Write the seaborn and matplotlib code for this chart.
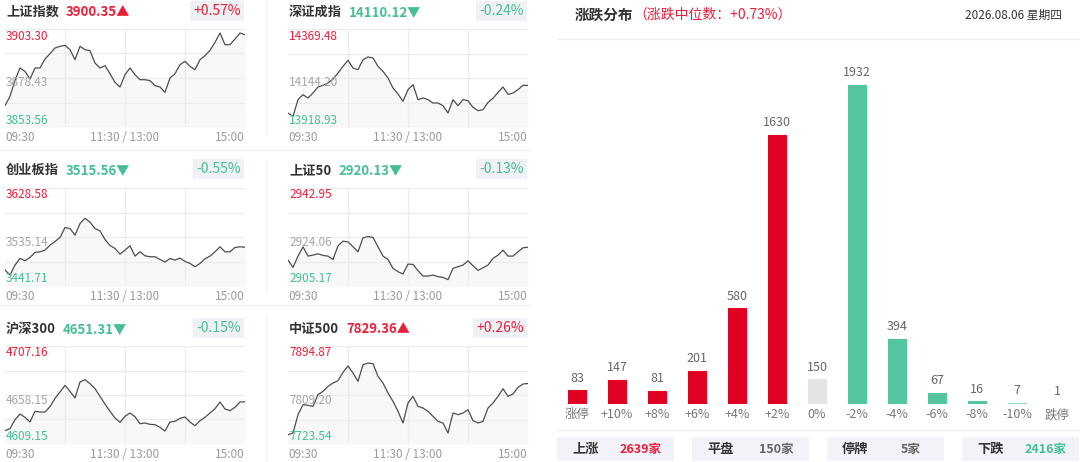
import numpy as np
import pandas as pd
import matplotlib.pyplot as plt
import seaborn as sns

sns.set_theme(style='white')
plt.rcParams['font.family'] = ['Noto Sans CJK SC', 'DejaVu Sans']

RED = '#e8203c'
GREEN = '#45bf93'
GRAY = '#9a9a9a'
DARK = '#333333'
GRID = '#ececec'

# ---- index panels ---- #
index_names = ['上证指数', '深证成指', '创业板指', '上证50', '沪深300', '中证500']
index_last = [3900.35, 14110.12, 3515.56, 2920.13, 4651.31, 7829.36]
index_pct = ['+0.57%', '-0.24%', '-0.55%', '-0.13%', '-0.15%', '+0.26%']
axis_high = [3903.30, 14369.48, 3628.58, 2942.95, 4707.16, 7894.87]
axis_mid = [3878.43, 14144.20, 3535.14, 2924.06, 4658.15, 7809.20]
axis_low = [3853.56, 13918.93, 3441.71, 2905.17, 4609.15, 7723.54]
time_labels = ['09:30', '11:30 / 13:00', '15:00']
minutes = list(range(0, 241, 5))  # trading minutes since 09:30

sh_vals = [3864.39, 3869.13, 3877.25, 3883.51, 3881.81, 3877.92, 3883.51, 3883.51, 3888.07, 3890.78,
           3893.66, 3894.50, 3895.01, 3892.81, 3887.74, 3894.50, 3892.81, 3892.30, 3886.04, 3883.51,
           3884.69, 3880.63, 3876.23, 3873.86, 3880.12, 3883.51, 3880.12, 3877.58, 3877.58, 3877.08,
           3874.54, 3873.86, 3871.16, 3878.43, 3880.63, 3885.20, 3886.89, 3884.35, 3882.66, 3887.74,
           3889.77, 3892.47, 3896.53, 3901.27, 3895.35, 3895.35, 3898.22, 3901.27, 3900.35]
sz_vals = [13983.3, 13968.0, 14044.6, 14067.6, 14052.3, 14075.3, 14102.8, 14110.5, 14121.2, 14139.6,
           14167.2, 14197.9, 14225.4, 14190.2, 14182.5, 14228.5, 14240.8, 14236.2, 14197.9, 14174.9,
           14144.2, 14098.2, 14070.7, 14036.9, 14090.6, 14113.6, 14044.6, 14052.3, 14044.6, 14029.3,
           14029.3, 14017.0, 13983.3, 14044.6, 14017.0, 14044.6, 14040.0, 14009.4, 13994.0, 13998.6,
           14032.3, 14050.7, 14078.3, 14102.8, 14069.1, 14075.3, 14090.6, 14110.5, 14110.12]
cyb_vals = [3472.12, 3462.61, 3481.62, 3494.29, 3489.85, 3496.19, 3505.69, 3506.96, 3510.12, 3519.62,
            3526.59, 3534.19, 3553.20, 3551.30, 3538.63, 3560.80, 3570.94, 3563.33, 3551.30, 3546.86,
            3530.39, 3518.99, 3513.29, 3502.52, 3510.12, 3518.36, 3498.72, 3506.96, 3499.35, 3497.45,
            3497.45, 3492.39, 3487.32, 3494.29, 3491.12, 3494.92, 3488.58, 3484.78, 3478.45, 3484.78,
            3493.65, 3498.72, 3506.96, 3516.46, 3506.96, 3506.96, 3515.19, 3516.46, 3515.56]
sz50_vals = [2915.16, 2912.34, 2916.70, 2920.28, 2916.70, 2917.08, 2917.59, 2916.95, 2916.70, 2915.41,
             2920.67, 2922.46, 2922.20, 2920.28, 2918.36, 2923.74, 2924.25, 2923.87, 2920.28, 2916.70,
             2915.41, 2911.96, 2910.68, 2909.78, 2913.62, 2913.49, 2911.06, 2909.01, 2909.01, 2909.40,
             2908.76, 2908.50, 2907.60, 2911.96, 2912.60, 2913.24, 2914.90, 2912.98, 2911.19, 2912.21,
             2913.24, 2915.80, 2917.08, 2919.00, 2916.70, 2916.70, 2918.36, 2919.90, 2920.13]
hs300_vals = [4622.48, 4624.48, 4633.49, 4639.15, 4635.82, 4631.15, 4641.82, 4641.15, 4641.15, 4646.49,
              4654.82, 4661.15, 4667.82, 4661.82, 4655.15, 4671.16, 4673.49, 4669.49, 4664.49, 4656.82,
              4649.15, 4641.82, 4635.15, 4630.82, 4636.82, 4640.15, 4636.49, 4629.48, 4630.15, 4628.82,
              4628.48, 4625.82, 4622.15, 4631.15, 4631.82, 4634.82, 4636.15, 4631.15, 4627.48, 4632.49,
              4635.82, 4640.15, 4644.49, 4651.15, 4644.15, 4642.49, 4645.82, 4651.15, 4651.31]
zz500_vals = [7739.86, 7742.77, 7774.82, 7792.30, 7791.14, 7789.39, 7809.79, 7815.61, 7824.36, 7830.18,
              7834.26, 7848.83, 7859.90, 7847.67, 7833.10, 7862.24, 7865.15, 7863.98, 7841.84, 7830.18,
              7812.70, 7798.13, 7780.65, 7760.25, 7795.22, 7806.87, 7789.39, 7786.48, 7780.65, 7771.91,
              7763.17, 7760.25, 7742.77, 7777.74, 7774.82, 7777.74, 7783.56, 7764.33, 7760.25, 7763.17,
              7786.48, 7795.22, 7806.87, 7820.28, 7806.87, 7810.95, 7822.61, 7828.44, 7829.36]
series = [sh_vals, sz_vals, cyb_vals, sz50_vals, hs300_vals, zz500_vals]

# ---- distribution ---- #
dist_labels = ['涨停', '+10%', '+8%', '+6%', '+4%', '+2%', '0%', '-2%', '-4%', '-6%', '-8%', '-10%', '跌停']
dist_counts = [83, 147, 81, 201, 580, 1630, 150, 1932, 394, 67, 16, 7, 1]
dist_colors = ['#e00022'] * 6 + ['#e4e4e4'] + ['#54c4a1'] * 4 + ['#8bd9c1', '#d6f2e9']
median_text = '（涨跌中位数：+0.73%）'
date_text = '2026.08.06 星期四'
summary_names = ['上涨', '平盘', '停牌', '下跌']
summary_counts = [2639, 150, 5, 2416]
summary_colors = [RED, '#666666', '#666666', GREEN]

W, H = 1080, 462
fig = plt.figure(figsize=(W / 100, H / 100), dpi=100, facecolor='white')


def px_axes(x0, y0, x1, y1):
    return fig.add_axes([x0 / W, 1 - y1 / H, (x1 - x0) / W, (y1 - y0) / H])


def pixel_layer(z):
    a = fig.add_axes([0, 0, 1, 1])
    a.set_xlim(0, W)
    a.set_ylim(H, 0)
    a.axis('off')
    a.set_zorder(z)
    a.patch.set_alpha(0)
    return a


bg = pixel_layer(-1)   # separators and boxes
fg = pixel_layer(10)   # texts on top of everything

col_x = [(5, 245), (288, 528)]
title_y = [12, 170, 329]
plot_y = [(29, 127), (188, 286), (346, 444)]

# separators between panels
for sy in (150, 305):
    bg.plot([0, 531], [sy, sy], color='#f0f0f0', lw=1)
for (a, b) in [(0, 135), (160, 292), (315, 462)]:
    bg.plot([266, 266], [a, b], color='#f2f2f2', lw=1)

for k in range(6):
    col, row = k % 2, k // 2
    x0, x1 = col_x[col]
    y0, y1 = plot_y[row]
    ty = title_y[row]
    up = index_pct[k].startswith('+')
    c = RED if up else GREEN

    ax = px_axes(x0, y0, x1, y1)
    df = pd.DataFrame({'t': minutes, 'v': series[k]})
    ax.fill_between(df['t'], df['v'], axis_low[k], color='#f8f8f8', lw=0, zorder=0)
    for lv in np.linspace(axis_low[k], axis_high[k], 5):
        ax.axhline(lv, color=GRID, lw=0.9, zorder=0.5)
    for m in (60, 120, 180):
        ax.axvline(m, color=GRID, lw=0.9, zorder=0.5)
    sns.lineplot(data=df, x='t', y='v', ax=ax, color='#4d4d4d', lw=0.9, zorder=2)
    ax.set_xlim(0, 240)
    ax.set_ylim(axis_low[k], axis_high[k])
    ax.set_xlabel('')
    ax.set_ylabel('')
    ax.set_yticks([])
    ax.set_xticks([0, 120, 240], time_labels)
    ax.tick_params(axis='x', length=0, pad=3, labelsize=8.5, labelcolor=GRAY)
    tl = ax.get_xticklabels()
    tl[0].set_ha('left')
    tl[-1].set_ha('right')
    for s in ax.spines.values():
        s.set_visible(False)
    ax.patch.set_alpha(0)

    # axis value labels
    lx = x0 + 1
    for yy, val, cc in [(y0 + 7, axis_high[k], RED), ((y0 + y1) / 2 + 5, axis_mid[k], '#a6a6a6'),
                        (y1 - 7, axis_low[k], GREEN)]:
        fg.text(lx, yy, f'{val:.2f}', color=cc, fontsize=8.5, va='center', ha='left')

    # header
    name = fg.text(x0 + 1, ty, index_names[k], fontsize=9.5, weight='bold', color=DARK, va='center')
    arrow = '▲' if up else '▼'
    fg.annotate(f'{index_last[k]:.2f}{arrow}', xy=(1, 0.5), xycoords=name, xytext=(5, 0),
                textcoords='offset points', fontsize=9.5, weight='bold', color=c, va='center')
    fg.text(x1 - 4, ty - 1, index_pct[k], fontsize=10, color=c, va='center', ha='right',
            bbox=dict(boxstyle='square,pad=0.25', fc='#f0f1f5', ec='none'))

# ---- right: distribution chart ---- #
t1 = fg.text(575, 15, '涨跌分布', fontsize=10.5, weight='bold', color=DARK, va='center')
fg.annotate(median_text, xy=(1, 0.5), xycoords=t1, xytext=(0, 0), textcoords='offset points',
            fontsize=10, color=RED, va='center')
fg.text(1062, 15, date_text, fontsize=8.5, color=DARK, va='center', ha='right')
bg.plot([557, 1080], [39, 39], color='#eeeeee', lw=1)
bg.plot([557, 1080], [430, 430], color='#eeeeee', lw=1)

bx = px_axes(557, 40, 1077, 404)
sns.barplot(x=dist_labels, y=dist_counts, hue=dist_labels, palette=dist_colors, legend=False,
            width=0.45, saturation=1, ax=bx)
for cont, cnt in zip(bx.containers, dist_counts):
    for bar in cont:
        bar.set_edgecolor(bar.get_facecolor())
        bar.set_linewidth(0.8)
    bx.bar_label(cont, labels=[str(cnt)], padding=4, fontsize=9, color='#666666')
bx.set_xlim(-0.5, 12.5)
bx.set_ylim(0, 2204)
bx.set_yticks([])
bx.tick_params(axis='x', length=0, pad=3, labelsize=9, labelcolor='#777777')
for s in bx.spines.values():
    s.set_visible(False)
bx.patch.set_alpha(0)

# ---- summary boxes ---- #
for i, (nm, cnt, cc) in enumerate(zip(summary_names, summary_counts, summary_colors)):
    bx0 = 557 + 135 * i
    bg.add_patch(plt.Rectangle((bx0, 437), 117, 24, fc='#f2f3f8', ec='none'))
    fg.text(bx0 + 15, 449, nm, fontsize=9.5, weight='bold', color=DARK, va='center', ha='left')
    fg.text(bx0 + 84, 449, f'{cnt}家', fontsize=9, weight='bold', color=cc, va='center', ha='center')

fig.savefig('out.png', dpi=100, facecolor='white')
